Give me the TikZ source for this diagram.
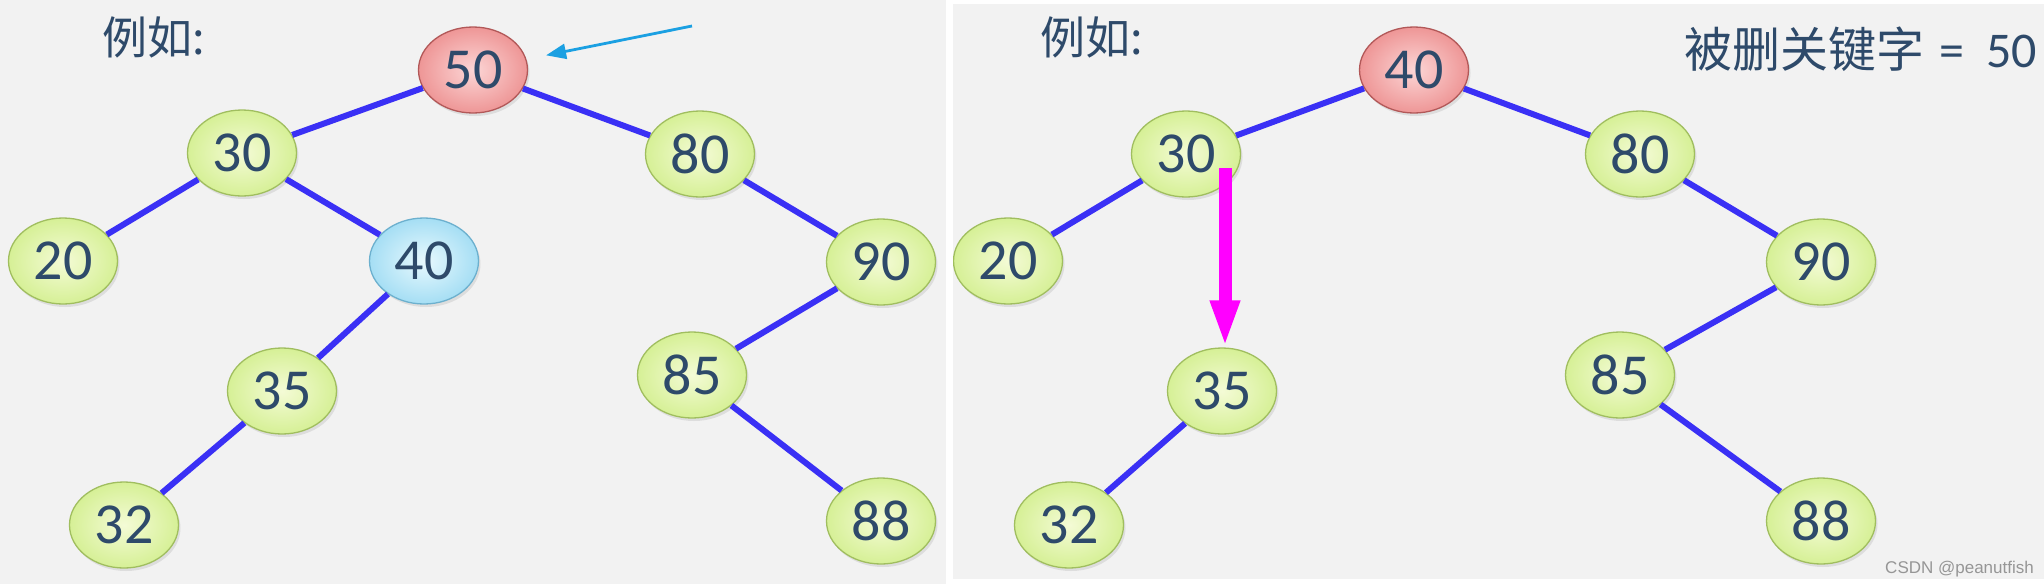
\documentclass[tikz,border=0pt]{standalone}
\usepackage{fontspec}
\setmainfont{Carlito}
\newfontfamily\cjk{Noto Sans CJK SC}
\newfontfamily\wmfont{Liberation Sans}
\usetikzlibrary{arrows.meta,shadows,calc,shapes.geometric}
\definecolor{bg}{RGB}{242,242,242}
\definecolor{txt}{RGB}{46,74,106}
\definecolor{edgeblue}{RGB}{58,48,245}
\definecolor{gin}{RGB}{244,251,214}
\definecolor{gout}{RGB}{214,240,150}
\definecolor{gbd}{RGB}{160,190,95}
\definecolor{rin}{RGB}{252,214,214}
\definecolor{rout}{RGB}{238,150,150}
\definecolor{rbd}{RGB}{178,88,88}
\definecolor{bin}{RGB}{232,249,254}
\definecolor{bout}{RGB}{165,222,244}
\definecolor{bbd}{RGB}{108,176,206}
\definecolor{arrowblue}{RGB}{27,160,226}
\definecolor{mag}{RGB}{255,0,255}
\definecolor{wmgray}{RGB}{150,150,150}
\tikzset{
  tn/.style={ellipse, minimum width=109pt, minimum height=86pt, inner sep=0pt,
    draw=gbd, line width=1.3pt, inner color=gin, outer color=gout,
    font=\fontsize{58}{58}\selectfont, text=txt,
    drop shadow={opacity=0.18, shadow xshift=2pt, shadow yshift=-3pt}},
  rn/.style={tn, draw=rbd, inner color=rin, outer color=rout},
  bn/.style={tn, draw=bbd, inner color=bin, outer color=bout},
  ed/.style={draw=edgeblue, line width=6pt},
  barrow/.style={draw=arrowblue, line width=2.8pt, -{Triangle[length=20pt,width=15pt]}, shorten >=20pt},
  magarrow/.style={draw=mag, line width=13pt, -{Triangle[length=47pt,width=27pt]}},
  lbl/.style={text=txt, font=\cjk\fontsize{45}{45}\selectfont, inner sep=0pt}
}
\begin{document}
\begin{tikzpicture}[x=1pt,y=-1pt]
\useasboundingbox (0,0) rectangle (2044,584);
\fill[white] (0,0) rectangle (2044,584);
\fill[bg] (0,0) rectangle (946,584);
\fill[bg] (953,4) rectangle (2044,579);

% ---------- left panel ----------
\node[lbl] (llab) at (154,37) {例如:};
\node[rn] (l50) at (473,70) {50};
\node[tn] (l30) at (242,153) {30};
\node[tn] (l80) at (700,154) {80};
\node[tn] (l20) at (63,261) {20};
\node[bn] (l40) at (424,261) {40};
\node[tn] (l90) at (881,262) {90};
\node[tn] (l35) at (282,391) {35};
\node[tn] (l85) at (692,375) {85};
\node[tn] (l32) at (124,525) {32};
\node[tn] (l88) at (881,521) {88};
\draw[ed] (l50) -- (l30);
\draw[ed] (l50) -- (l80);
\draw[ed] (l30) -- (l20);
\draw[ed] (l30) -- (l40);
\draw[ed] (l40) -- (l35);
\draw[ed] (l35) -- (l32);
\draw[ed] (l80) -- (l90);
\draw[ed] (l90) -- (l85);
\draw[ed] (l85) -- (l88);
\coordinate (ba) at (692,26);
\draw[barrow] (ba) -- (l50);

% ---------- right panel ----------
\begin{scope}
\clip (953,4) rectangle (2044,579);
\node[lbl] (rlab) at (1092,37) {例如:};
\node[text=txt, font=\fontsize{50}{50}\selectfont, inner sep=0pt, anchor=base east] (title) at (2037,67) {{\cjk\fontsize{48}{48}\selectfont 被删关键字}\hspace{15pt}=\hspace{22pt}50};
\node[rn] (r40) at (1414,70) {40};
\node[tn] (r30) at (1186,154) {30};
\node[tn] (r80) at (1640,154) {80};
\node[tn] (r20) at (1008,261) {20};
\node[tn] (r90) at (1821,262) {90};
\node[tn] (r35) at (1222,391) {35};
\node[tn] (r85) at (1620,375) {85};
\node[tn] (r32) at (1069,525) {32};
\node[tn] (r88) at (1821,521) {88};
\draw[ed] (r40) -- (r30);
\draw[ed] (r40) -- (r80);
\draw[ed] (r30) -- (r20);
\draw[ed] (r35) -- (r32);
\draw[ed] (r80) -- (r90);
\draw[ed] (r90) -- (r85);
\draw[ed] (r85) -- (r88);
\draw[magarrow] ($(r35.north |- r30.center)+(3,14)$) -- ($(r35.north)+(3,0)$);
\node[text=wmgray, font=\wmfont\fontsize{17}{17}\selectfont, inner sep=0pt, anchor=south east] (wm) at (2034,577) {CSDN @peanutfish};
\end{scope}
\end{tikzpicture}
\end{document}
